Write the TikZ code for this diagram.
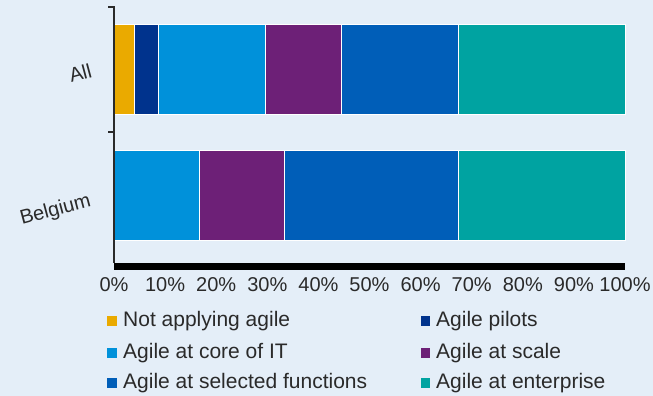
\documentclass[tikz,border=0pt]{standalone}
\usepackage{fontspec}
\setmainfont{Liberation Sans}
\definecolor{bg}{HTML}{E4EEF8}
\definecolor{txt}{HTML}{2A2A2A}
\definecolor{cyel}{HTML}{EAAA00}
\definecolor{cnavy}{HTML}{00338D}
\definecolor{clight}{HTML}{0091DA}
\definecolor{cpurp}{HTML}{6D2077}
\definecolor{cblue}{HTML}{005EB8}
\definecolor{cteal}{HTML}{00A3A1}
\begin{document}
\begin{tikzpicture}[x=1pt,y=-1pt,
  seg/.style={draw=white,line width=0.9pt},
  lbl/.style={font=\fontsize{20}{24}\selectfont, text=txt, inner sep=0pt},
  leglbl/.style={font=\fontsize{21}{24}\selectfont, text=txt, inner sep=0pt},
  axisline/.style={draw=txt,line width=1.3pt},
  legsq/.style={inner sep=0pt, minimum size=9.5pt}]
\fill[bg] (0,0) rectangle (653,396);
\useasboundingbox (0,0) rectangle (653,396);
% bars: All
\path[seg,fill=cyel]   (114,24.5) rectangle (134,114);
\path[seg,fill=cnavy]  (134,24.5) rectangle (158,114);
\path[seg,fill=clight] (158,24.5) rectangle (265,114);
\path[seg,fill=cpurp]  (265,24.5) rectangle (341,114);
\path[seg,fill=cblue]  (341,24.5) rectangle (458,114);
\path[seg,fill=cteal]  (458,24.5) rectangle (625,114);
% bars: Belgium
\path[seg,fill=clight] (114,150.5) rectangle (199,240);
\path[seg,fill=cpurp]  (199,150.5) rectangle (284,240);
\path[seg,fill=cblue]  (284,150.5) rectangle (458,240);
\path[seg,fill=cteal]  (458,150.5) rectangle (625,240);
% axes
\fill[black] (114,262.5) rectangle (625,269.5);
\draw[axisline] (108,7) -- (114,7) -- (114,263);
\draw[axisline] (108,132) -- (114,132);
% category labels
\node[lbl, rotate=15, anchor=base east] (all) at (93,77) {All};
\node[lbl, rotate=15, anchor=base east] (bel) at (92,206) {Belgium};
% tick labels
\foreach \i/\t in {0/0,1/10,2/20,3/30,4/40,5/50,6/60,7/70,8/80,9/90,10/100}
  \node[lbl, anchor=base] (t\i) at (114+51.1*\i,291) {\t\%};
% legend
\node[legsq, fill=cyel, anchor=south west]   (s1) at (107,326) {};
\node[leglbl, anchor=base west] (l1) at (123,326) {Not applying agile};
\node[legsq, fill=clight, anchor=south west] (s2) at (107,358) {};
\node[leglbl, anchor=base west] (l2) at (123,358) {Agile at core of IT};
\node[legsq, fill=cblue, anchor=south west]  (s3) at (107,388) {};
\node[leglbl, anchor=base west] (l3) at (123,388) {Agile at selected functions};
\node[legsq, fill=cnavy, anchor=south west]  (s4) at (420.5,326) {};
\node[leglbl, anchor=base west] (l4) at (436,326) {Agile pilots};
\node[legsq, fill=cpurp, anchor=south west]  (s5) at (420.5,358) {};
\node[leglbl, anchor=base west] (l5) at (436,358) {Agile at scale};
\node[legsq, fill=cteal, anchor=south west]  (s6) at (420.5,388) {};
\node[leglbl, anchor=base west] (l6) at (436,388) {Agile at enterprise};
\end{tikzpicture}
\end{document}
